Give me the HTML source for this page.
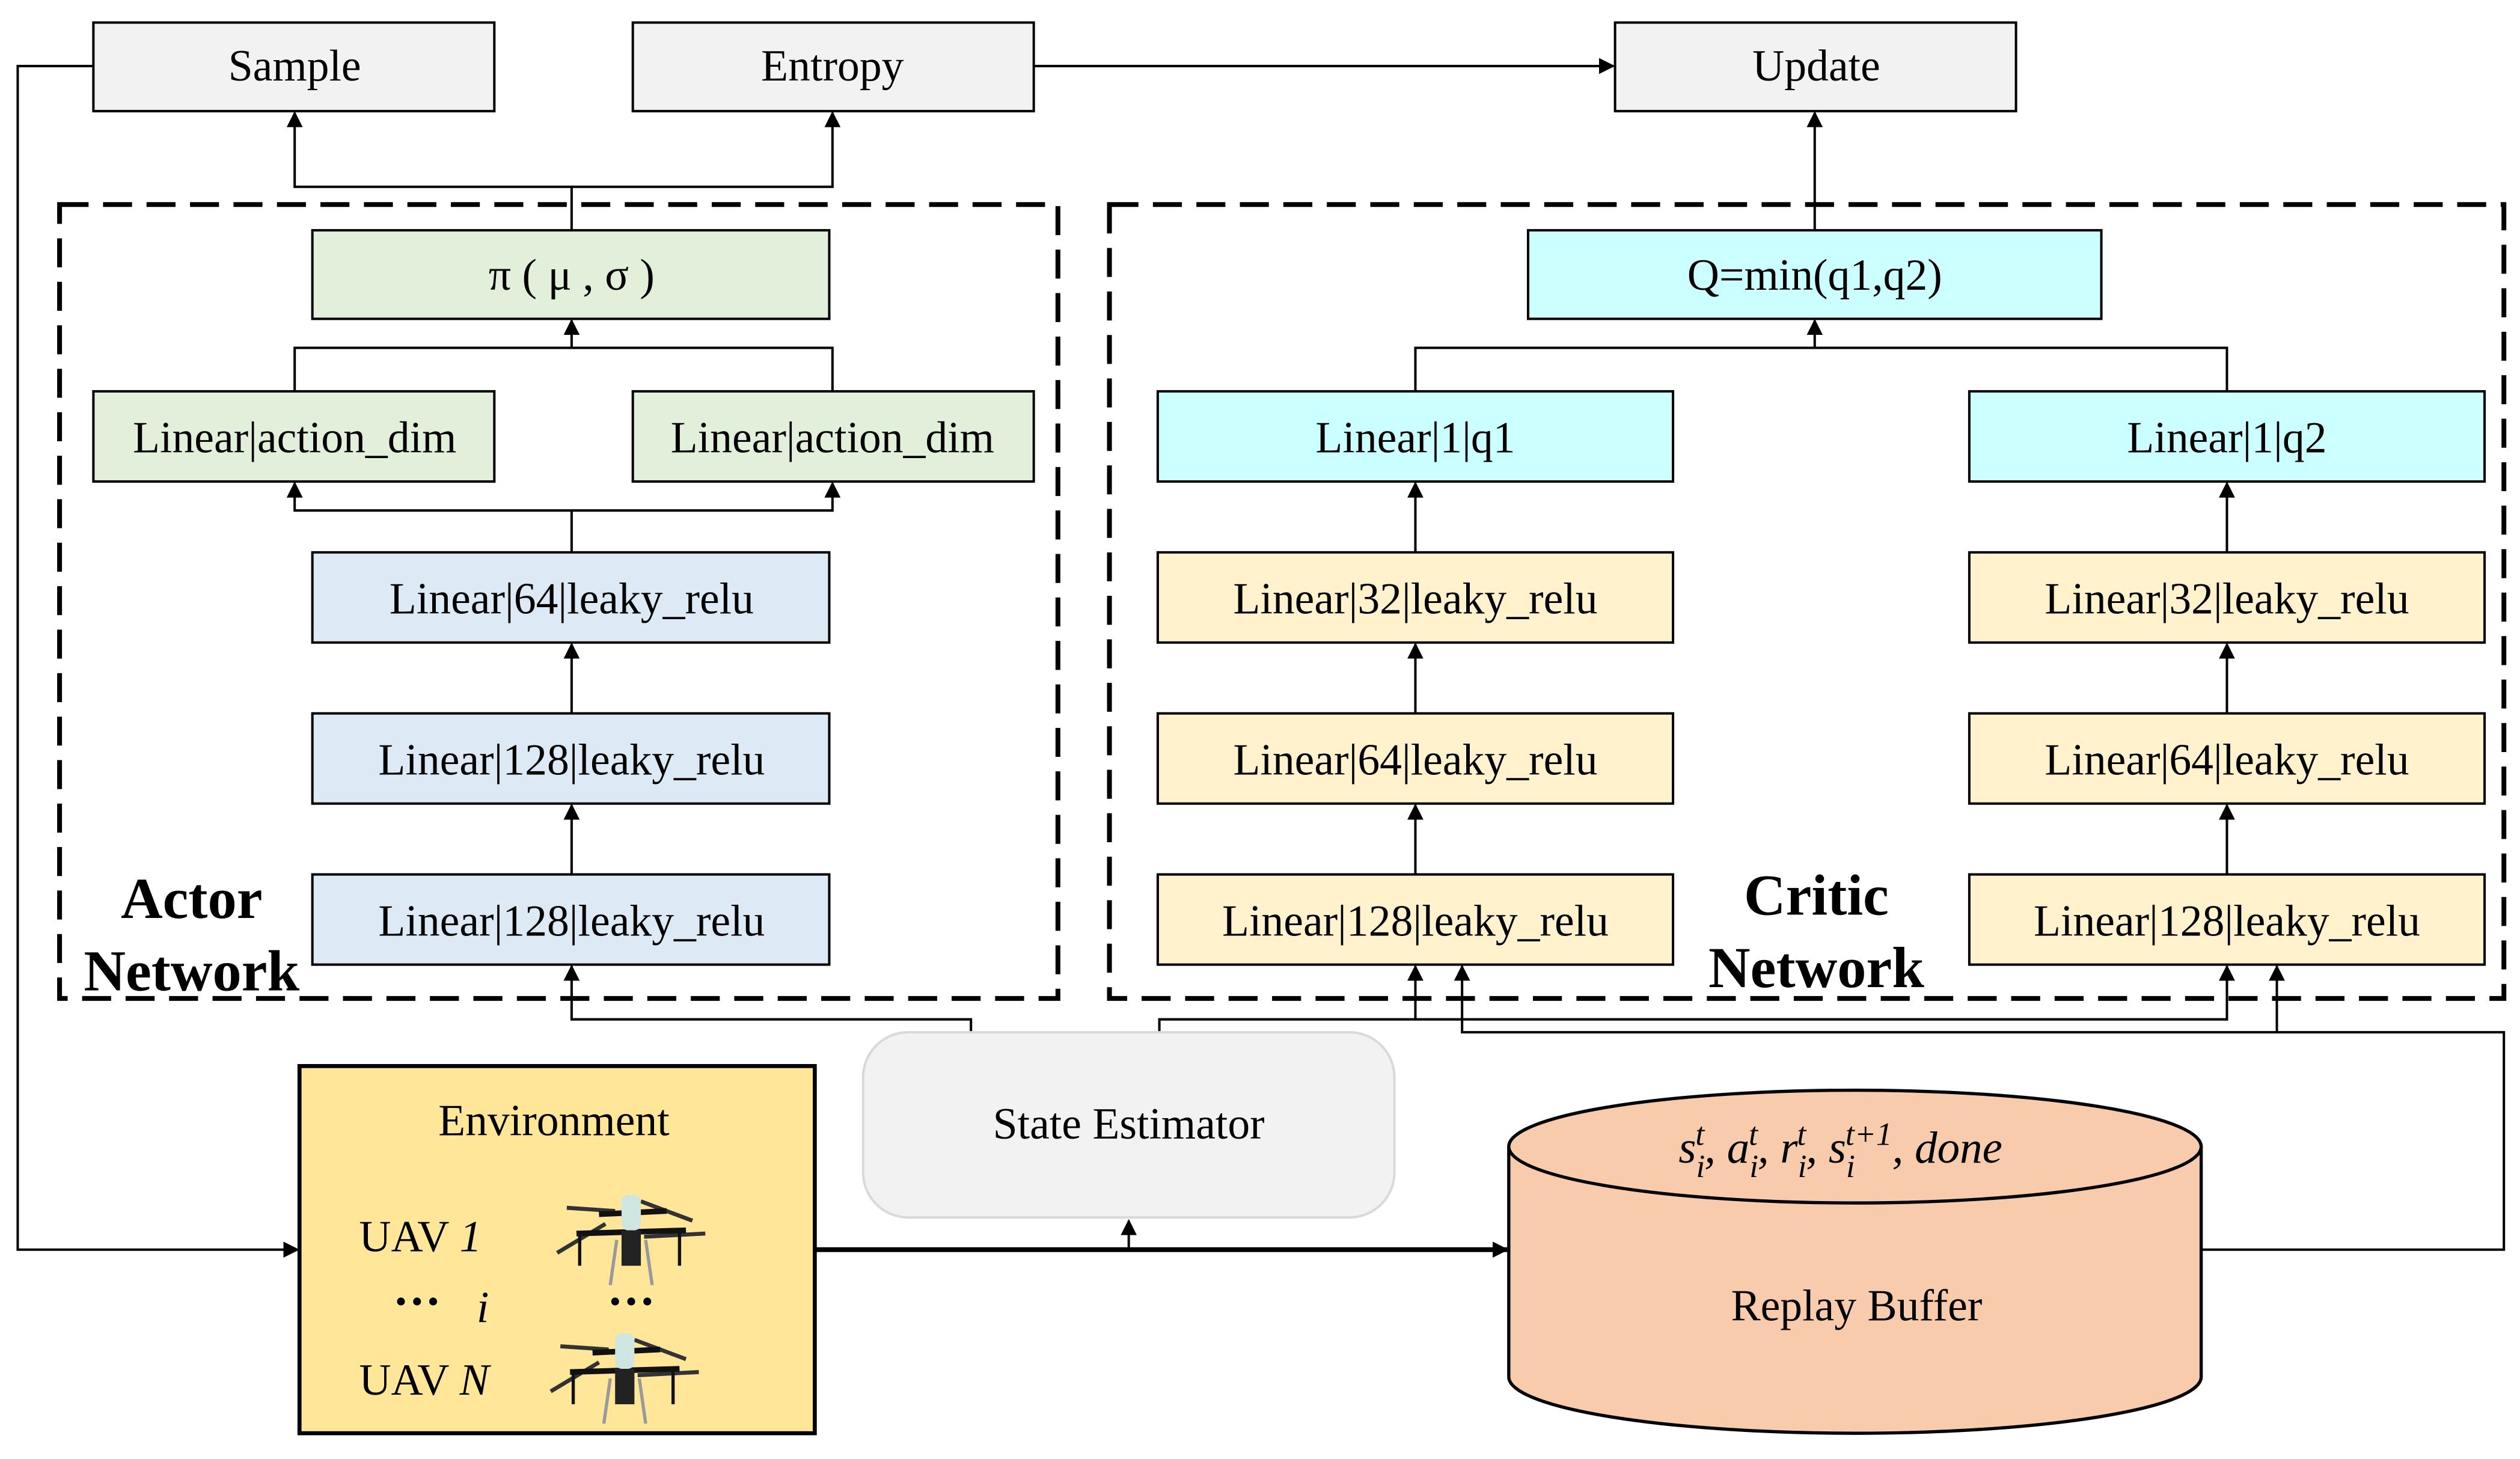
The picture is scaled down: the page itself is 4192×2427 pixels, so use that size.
<!DOCTYPE html>
<html><head><meta charset="utf-8"><style>
html,body{margin:0;padding:0;background:#fff;}
svg{display:block;}
text{font-family:"Liberation Serif",serif;fill:#000;}
</style></head><body>
<svg width="4192" height="2427" viewBox="0 0 1565 906" preserveAspectRatio="none" xmlns="http://www.w3.org/2000/svg">
<defs>
<marker id="a" markerWidth="10" markerHeight="10" refX="9" refY="5" orient="auto" markerUnits="userSpaceOnUse"><path d="M0,0 L10,5 L0,10 z" fill="#000"/></marker>
<g id="drone">
<line x1="-40" y1="-20" x2="-10" y2="-18" stroke="#333" stroke-width="2.5"/>
<line x1="6" y1="-24" x2="38" y2="-12" stroke="#333" stroke-width="2.5"/>
<line x1="-46" y1="8" x2="-16" y2="-10" stroke="#333" stroke-width="2.5"/>
<line x1="8" y1="-2" x2="46" y2="-4" stroke="#333" stroke-width="2.5"/>
<line x1="-34" y1="-4" x2="34" y2="-6" stroke="#111" stroke-width="3.5"/>
<line x1="-20" y1="-16" x2="22" y2="-18" stroke="#111" stroke-width="3.5"/>
<line x1="-32" y1="-4" x2="-32" y2="16" stroke="#111" stroke-width="2"/>
<line x1="30" y1="-6" x2="30" y2="16" stroke="#111" stroke-width="2"/>
<rect x="-6" y="-28" width="12" height="22" rx="4" fill="#cfe6e0"/>
<rect x="-6" y="-6" width="12" height="22" fill="#222"/>
<line x1="-9" y1="0" x2="-13" y2="28" stroke="#999" stroke-width="2"/>
<line x1="9" y1="0" x2="13" y2="28" stroke="#999" stroke-width="2"/>
</g>
</defs>
<g fill="none" stroke="#000" stroke-width="1.5">
<rect x="58" y="14" width="249" height="55" fill="#f2f2f2"/>
<rect x="393" y="14" width="249" height="55" fill="#f2f2f2"/>
<rect x="1003" y="14" width="249" height="55" fill="#f2f2f2"/>
<rect x="37" y="127" width="620" height="493" stroke-width="3" stroke-dasharray="18,9"/>
<rect x="689" y="127" width="866" height="493" stroke-width="3" stroke-dasharray="18,9"/>
<rect x="194" y="143" width="321" height="55" fill="#e2efda"/>
<rect x="58" y="243" width="249" height="56" fill="#e2efda"/>
<rect x="393" y="243" width="249" height="56" fill="#e2efda"/>
<rect x="194" y="343" width="321" height="56" fill="#dde9f5"/>
<rect x="194" y="443" width="321" height="56" fill="#dde9f5"/>
<rect x="194" y="543" width="321" height="56" fill="#dde9f5"/>
<rect x="949" y="143" width="356" height="55" fill="#ccffff"/>
<rect x="719" y="243" width="320" height="56" fill="#ccffff"/>
<rect x="1223" y="243" width="320" height="56" fill="#ccffff"/>
<rect x="719" y="343" width="320" height="56" fill="#fff2cc"/>
<rect x="719" y="443" width="320" height="56" fill="#fff2cc"/>
<rect x="719" y="543" width="320" height="56" fill="#fff2cc"/>
<rect x="1223" y="343" width="320" height="56" fill="#fff2cc"/>
<rect x="1223" y="443" width="320" height="56" fill="#fff2cc"/>
<rect x="1223" y="543" width="320" height="56" fill="#fff2cc"/>
<path d="M58,41 H11 V776 H185" marker-end="url(#a)"/>
<path d="M642,41 H1002" marker-end="url(#a)"/>
<path d="M355,143 V116 H183 V70" marker-end="url(#a)"/>
<path d="M355,116 H517 V70" marker-end="url(#a)"/>
<path d="M183,243 V216 H517 V243"/>
<path d="M355,216 V199" marker-end="url(#a)"/>
<path d="M355,343 V317 H183 V300" marker-end="url(#a)"/>
<path d="M355,317 H517 V300" marker-end="url(#a)"/>
<path d="M355,443 V400" marker-end="url(#a)"/>
<path d="M355,543 V500" marker-end="url(#a)"/>
<path d="M1127,143 V70" marker-end="url(#a)"/>
<path d="M879,243 V216 H1383 V243"/>
<path d="M1127,216 V199" marker-end="url(#a)"/>
<path d="M879,343 V300" marker-end="url(#a)"/><path d="M879,443 V400" marker-end="url(#a)"/><path d="M879,543 V500" marker-end="url(#a)"/>
<path d="M1383,343 V300" marker-end="url(#a)"/><path d="M1383,443 V400" marker-end="url(#a)"/><path d="M1383,543 V500" marker-end="url(#a)"/>
<path d="M603,641 V633 H355 V600" marker-end="url(#a)"/>
<path d="M720,641 V633 H1383 V600" marker-end="url(#a)"/>
<path d="M879,633 V600" marker-end="url(#a)"/>
<path d="M1367,776 H1555 V641 H908 V600" marker-end="url(#a)"/>
<path d="M1414,641 V600" marker-end="url(#a)"/>
<path d="M506,776 H936" stroke-width="3" marker-end="url(#a)"/>
<path d="M701,776 V758" marker-end="url(#a)"/>
<rect x="186" y="662" width="320" height="228" fill="#ffe699" stroke-width="2.5"/>
<rect x="536" y="641" width="330" height="115" rx="28" fill="#f2f2f2" stroke="#d9d9d9"/>
<path d="M937,712 V855 A215,35 0 0 0 1367,855 V712" fill="#f8cbad" stroke-width="2"/>
<ellipse cx="1152" cy="712" rx="215" ry="35" fill="#f8cbad" stroke-width="2"/>
</g>
<use href="#drone" x="392" y="770"/>
<use href="#drone" x="388" y="856"/>
<g font-size="27.5" text-anchor="middle">
<text x="183" y="50">Sample</text>
<text x="517" y="50">Entropy</text>
<text x="1128" y="50">Update</text>
<text x="355" y="180" font-family="Liberation Sans,sans-serif">π ( μ , σ )</text>
<text x="183" y="281">Linear|action_dim</text>
<text x="517" y="281">Linear|action_dim</text>
<text x="355" y="381">Linear|64|leaky_relu</text>
<text x="355" y="481">Linear|128|leaky_relu</text>
<text x="355" y="581">Linear|128|leaky_relu</text>
<text x="1127" y="180">Q=min(q1,q2)</text>
<text x="879" y="281">Linear|1|q1</text>
<text x="1383" y="281">Linear|1|q2</text>
<text x="879" y="381">Linear|32|leaky_relu</text>
<text x="879" y="481">Linear|64|leaky_relu</text>
<text x="879" y="581">Linear|128|leaky_relu</text>
<text x="1383" y="381">Linear|32|leaky_relu</text>
<text x="1383" y="481">Linear|64|leaky_relu</text>
<text x="1383" y="581">Linear|128|leaky_relu</text>
<text x="344" y="705">Environment</text>
<text x="701" y="707">State Estimator</text>
<text x="1153" y="820">Replay Buffer</text>
<text x="1143" y="722" font-style="italic" font-size="28">s<tspan font-size="20" dy="9">i</tspan><tspan font-size="20" dy="-20" dx="-6">t</tspan><tspan dy="11">, a</tspan><tspan font-size="20" dy="9">i</tspan><tspan font-size="20" dy="-20" dx="-6">t</tspan><tspan dy="11">, r</tspan><tspan font-size="20" dy="9">i</tspan><tspan font-size="20" dy="-20" dx="-6">t</tspan><tspan dy="11">, s</tspan><tspan font-size="20" dy="9">i</tspan><tspan font-size="20" dy="-20" dx="-6">t+1</tspan><tspan dy="11">, done</tspan></text>
</g>
<g font-size="27.5">
<text x="223" y="777">UAV <tspan font-style="italic">1</tspan></text>
<text x="223" y="866">UAV <tspan font-style="italic">N</tspan></text>
<text x="244" y="818" font-weight="bold" font-size="30">···</text>
<text x="296" y="821" font-style="italic">i</text>
<text x="377" y="818" font-weight="bold" font-size="30">···</text>
</g>
<g font-size="36" font-weight="bold" text-anchor="middle">
<text x="119" y="570">Actor</text>
<text x="119" y="615">Network</text>
<text x="1128" y="568">Critic</text>
<text x="1128" y="613">Network</text>
</g>
</svg>
</body></html>
